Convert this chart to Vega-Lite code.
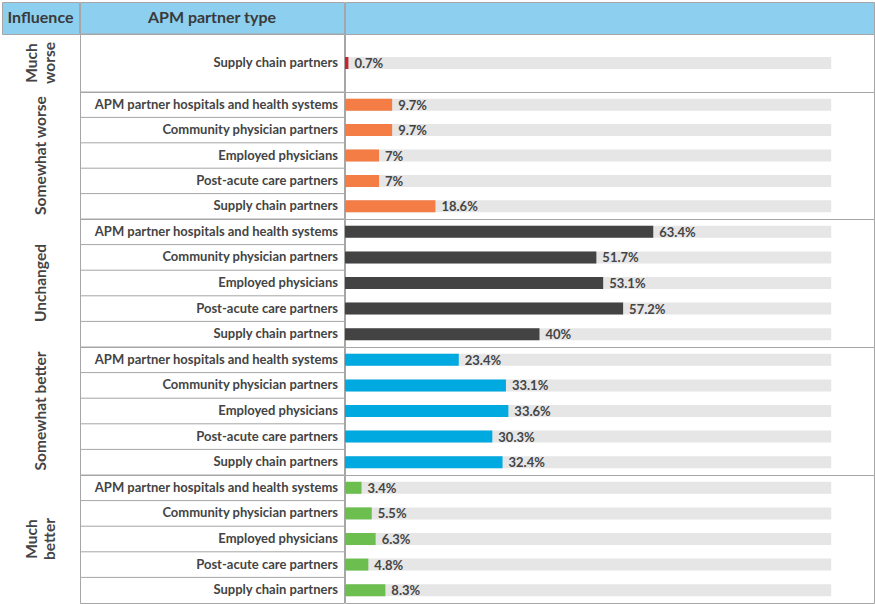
{
  "$schema": "https://vega.github.io/schema/vega-lite/v6.json",
  "padding": 1,
  "background": "white",
  "config": {
    "view": {"stroke": "#a6a6a6", "strokeWidth": 1},
    "concat": {"spacing": 0},
    "text": {"font": "Lato"}
  },
  "data": {
    "values": [
      {"influence": "Much worse", "partner": "Supply chain partners", "share": 0.007},
      {"influence": "Somewhat worse", "partner": "APM partner hospitals and health systems", "share": 0.097},
      {"influence": "Somewhat worse", "partner": "Community physician partners", "share": 0.097},
      {"influence": "Somewhat worse", "partner": "Employed physicians", "share": 0.07},
      {"influence": "Somewhat worse", "partner": "Post-acute care partners", "share": 0.07},
      {"influence": "Somewhat worse", "partner": "Supply chain partners", "share": 0.186},
      {"influence": "Unchanged", "partner": "APM partner hospitals and health systems", "share": 0.634},
      {"influence": "Unchanged", "partner": "Community physician partners", "share": 0.517},
      {"influence": "Unchanged", "partner": "Employed physicians", "share": 0.531},
      {"influence": "Unchanged", "partner": "Post-acute care partners", "share": 0.572},
      {"influence": "Unchanged", "partner": "Supply chain partners", "share": 0.40},
      {"influence": "Somewhat better", "partner": "APM partner hospitals and health systems", "share": 0.234},
      {"influence": "Somewhat better", "partner": "Community physician partners", "share": 0.331},
      {"influence": "Somewhat better", "partner": "Employed physicians", "share": 0.336},
      {"influence": "Somewhat better", "partner": "Post-acute care partners", "share": 0.303},
      {"influence": "Somewhat better", "partner": "Supply chain partners", "share": 0.324},
      {"influence": "Much better", "partner": "APM partner hospitals and health systems", "share": 0.034},
      {"influence": "Much better", "partner": "Community physician partners", "share": 0.055},
      {"influence": "Much better", "partner": "Employed physicians", "share": 0.063},
      {"influence": "Much better", "partner": "Post-acute care partners", "share": 0.048},
      {"influence": "Much better", "partner": "Supply chain partners", "share": 0.083}
    ]
  },
  "spacing": -2,
  "resolve": {"scale": {"x": "independent", "y": "independent"}},
  "hconcat": [
    {
      "spacing": 0,
      "bounds": "flush",
      "vconcat": [
        {"width": 77, "height": 32, "view": {"fill": "#8ccfee", "stroke": "#a6a6a6"}, "data": {"values": [{"h": "Influence"}]},
         "mark": {"type": "text", "font": "Lato", "fontWeight": "bold", "fontSize": 16, "color": "#3a3a3a"}, "encoding": {"text": {"field": "h"}}},
        {"width": 77, "height": 58, "data": {"values": [{"label": "Much\nworse"}]},
         "mark": {"type": "text", "angle": 270, "dy": -9, "font": "Lato", "fontWeight": "bold", "fontSize": 15.5, "color": "#444", "lineBreak": "\n", "lineHeight": 18},
         "encoding": {"text": {"field": "label"}}},
        {"width": 77, "height": 127, "data": {"values": [{"label": "Somewhat worse"}]},
         "mark": {"type": "text", "angle": 270, "font": "Lato", "fontWeight": "bold", "fontSize": 15.5, "color": "#444"},
         "encoding": {"text": {"field": "label"}}},
        {"width": 77, "height": 128, "data": {"values": [{"label": "Unchanged"}]},
         "mark": {"type": "text", "angle": 270, "font": "Lato", "fontWeight": "bold", "fontSize": 15.5, "color": "#444"},
         "encoding": {"text": {"field": "label"}}},
        {"width": 77, "height": 128, "data": {"values": [{"label": "Somewhat better"}]},
         "mark": {"type": "text", "angle": 270, "font": "Lato", "fontWeight": "bold", "fontSize": 15.5, "color": "#444"},
         "encoding": {"text": {"field": "label"}}},
        {"width": 77, "height": 128, "data": {"values": [{"label": "Much\nbetter"}]},
         "mark": {"type": "text", "angle": 270, "dy": -9, "font": "Lato", "fontWeight": "bold", "fontSize": 15.5, "color": "#444", "lineBreak": "\n", "lineHeight": 18},
         "encoding": {"text": {"field": "label"}}}
      ]
    },
    {
      "spacing": 0,
      "bounds": "flush",
      "resolve": {"scale": {"y": "independent"}},
      "vconcat": [
        {"width": 264, "height": 32, "view": {"fill": "#8ccfee", "stroke": "#a6a6a6"}, "data": {"values": [{"h": "APM partner type"}]},
         "mark": {"type": "text", "font": "Lato", "fontWeight": "bold", "fontSize": 16, "color": "#3a3a3a"}, "encoding": {"text": {"field": "h"}}},
        {"width": 264, "height": 58, "transform": [{"filter": {"field": "influence", "equal": "Much worse"}}],
         "encoding": {"y": {"field": "partner", "type": "nominal", "sort": null, "scale": {"paddingInner": 0, "paddingOuter": 0}, "axis": null}},
         "layer": [
           {"mark": {"type": "rule", "color": "#a6a6a6", "strokeWidth": 1}, "encoding": {"y": {"field": "partner", "type": "nominal", "sort": null, "bandPosition": 0, "scale": {"paddingInner": 0, "paddingOuter": 0}, "axis": null}}},
           {"mark": {"type": "text", "x": "width", "dx": -6, "align": "right", "baseline": "middle", "font": "Lato", "fontWeight": "bold", "fontSize": 13, "color": "#444"}, "encoding": {"text": {"field": "partner"}}}
         ]},
        {"width": 264, "height": 127, "transform": [{"filter": {"field": "influence", "equal": "Somewhat worse"}}],
         "encoding": {"y": {"field": "partner", "type": "nominal", "sort": null, "scale": {"paddingInner": 0, "paddingOuter": 0}, "axis": null}},
         "layer": [
           {"mark": {"type": "rule", "color": "#a6a6a6", "strokeWidth": 1}, "encoding": {"y": {"field": "partner", "type": "nominal", "sort": null, "bandPosition": 0, "scale": {"paddingInner": 0, "paddingOuter": 0}, "axis": null}}},
           {"mark": {"type": "text", "x": "width", "dx": -6, "align": "right", "baseline": "middle", "font": "Lato", "fontWeight": "bold", "fontSize": 13, "color": "#444"}, "encoding": {"text": {"field": "partner"}}}
         ]},
        {"width": 264, "height": 128, "transform": [{"filter": {"field": "influence", "equal": "Unchanged"}}],
         "encoding": {"y": {"field": "partner", "type": "nominal", "sort": null, "scale": {"paddingInner": 0, "paddingOuter": 0}, "axis": null}},
         "layer": [
           {"mark": {"type": "rule", "color": "#a6a6a6", "strokeWidth": 1}, "encoding": {"y": {"field": "partner", "type": "nominal", "sort": null, "bandPosition": 0, "scale": {"paddingInner": 0, "paddingOuter": 0}, "axis": null}}},
           {"mark": {"type": "text", "x": "width", "dx": -6, "align": "right", "baseline": "middle", "font": "Lato", "fontWeight": "bold", "fontSize": 13, "color": "#444"}, "encoding": {"text": {"field": "partner"}}}
         ]},
        {"width": 264, "height": 128, "transform": [{"filter": {"field": "influence", "equal": "Somewhat better"}}],
         "encoding": {"y": {"field": "partner", "type": "nominal", "sort": null, "scale": {"paddingInner": 0, "paddingOuter": 0}, "axis": null}},
         "layer": [
           {"mark": {"type": "rule", "color": "#a6a6a6", "strokeWidth": 1}, "encoding": {"y": {"field": "partner", "type": "nominal", "sort": null, "bandPosition": 0, "scale": {"paddingInner": 0, "paddingOuter": 0}, "axis": null}}},
           {"mark": {"type": "text", "x": "width", "dx": -6, "align": "right", "baseline": "middle", "font": "Lato", "fontWeight": "bold", "fontSize": 13, "color": "#444"}, "encoding": {"text": {"field": "partner"}}}
         ]},
        {"width": 264, "height": 128, "transform": [{"filter": {"field": "influence", "equal": "Much better"}}],
         "encoding": {"y": {"field": "partner", "type": "nominal", "sort": null, "scale": {"paddingInner": 0, "paddingOuter": 0}, "axis": null}},
         "layer": [
           {"mark": {"type": "rule", "color": "#a6a6a6", "strokeWidth": 1}, "encoding": {"y": {"field": "partner", "type": "nominal", "sort": null, "bandPosition": 0, "scale": {"paddingInner": 0, "paddingOuter": 0}, "axis": null}}},
           {"mark": {"type": "text", "x": "width", "dx": -6, "align": "right", "baseline": "middle", "font": "Lato", "fontWeight": "bold", "fontSize": 13, "color": "#444"}, "encoding": {"text": {"field": "partner"}}}
         ]}
      ]
    },
    {
      "spacing": 0,
      "bounds": "flush",
      "resolve": {"scale": {"y": "independent", "x": "independent"}},
      "vconcat": [
        {"width": 529, "height": 32, "view": {"fill": "#8ccfee", "stroke": "#a6a6a6"}, "data": {"values": [{"h": ""}]},
         "mark": {"type": "text", "font": "Lato", "fontWeight": "bold", "fontSize": 16, "color": "#3a3a3a"}, "encoding": {"text": {"field": "h"}}},
        {"width": 529, "height": 58, "transform": [{"filter": {"field": "influence", "equal": "Much worse"}}],
         "encoding": {"y": {"field": "partner", "type": "nominal", "sort": null, "scale": {"paddingInner": 0, "paddingOuter": 0}, "axis": null}},
         "layer": [
           {"mark": {"type": "bar", "height": 12, "color": "#e6e6e6"}, "encoding": {"x": {"datum": 1, "type": "quantitative", "scale": {"domain": [0, 1.088], "nice": false, "zero": true}, "axis": null}}},
           {"mark": {"type": "bar", "height": 12}, "encoding": {"x": {"field": "share", "type": "quantitative", "scale": {"domain": [0, 1.088], "nice": false, "zero": true}, "axis": null},
             "color": {"field": "influence", "type": "nominal", "legend": null, "scale": {"domain": ["Much worse", "Somewhat worse", "Unchanged", "Somewhat better", "Much better"], "range": ["#c4262e", "#f47d45", "#434343", "#00a9df", "#6cbf4f"]}}}},
           {"mark": {"type": "text", "align": "left", "baseline": "middle", "dx": 6, "dy": 1, "font": "Lato", "fontWeight": "bold", "fontSize": 13, "color": "#444"},
            "encoding": {"x": {"field": "share", "type": "quantitative", "scale": {"domain": [0, 1.088], "nice": false, "zero": true}, "axis": null}, "text": {"field": "share", "format": ".1~%"}}}
         ]},
        {"width": 529, "height": 127, "transform": [{"filter": {"field": "influence", "equal": "Somewhat worse"}}],
         "encoding": {"y": {"field": "partner", "type": "nominal", "sort": null, "scale": {"paddingInner": 0, "paddingOuter": 0}, "axis": null}},
         "layer": [
           {"mark": {"type": "bar", "height": 12, "color": "#e6e6e6"}, "encoding": {"x": {"datum": 1, "type": "quantitative", "scale": {"domain": [0, 1.088], "nice": false, "zero": true}, "axis": null}}},
           {"mark": {"type": "bar", "height": 12}, "encoding": {"x": {"field": "share", "type": "quantitative", "scale": {"domain": [0, 1.088], "nice": false, "zero": true}, "axis": null},
             "color": {"field": "influence", "type": "nominal", "legend": null, "scale": {"domain": ["Much worse", "Somewhat worse", "Unchanged", "Somewhat better", "Much better"], "range": ["#c4262e", "#f47d45", "#434343", "#00a9df", "#6cbf4f"]}}}},
           {"mark": {"type": "text", "align": "left", "baseline": "middle", "dx": 6, "dy": 1, "font": "Lato", "fontWeight": "bold", "fontSize": 13, "color": "#444"},
            "encoding": {"x": {"field": "share", "type": "quantitative", "scale": {"domain": [0, 1.088], "nice": false, "zero": true}, "axis": null}, "text": {"field": "share", "format": ".1~%"}}}
         ]},
        {"width": 529, "height": 128, "transform": [{"filter": {"field": "influence", "equal": "Unchanged"}}],
         "encoding": {"y": {"field": "partner", "type": "nominal", "sort": null, "scale": {"paddingInner": 0, "paddingOuter": 0}, "axis": null}},
         "layer": [
           {"mark": {"type": "bar", "height": 12, "color": "#e6e6e6"}, "encoding": {"x": {"datum": 1, "type": "quantitative", "scale": {"domain": [0, 1.088], "nice": false, "zero": true}, "axis": null}}},
           {"mark": {"type": "bar", "height": 12}, "encoding": {"x": {"field": "share", "type": "quantitative", "scale": {"domain": [0, 1.088], "nice": false, "zero": true}, "axis": null},
             "color": {"field": "influence", "type": "nominal", "legend": null, "scale": {"domain": ["Much worse", "Somewhat worse", "Unchanged", "Somewhat better", "Much better"], "range": ["#c4262e", "#f47d45", "#434343", "#00a9df", "#6cbf4f"]}}}},
           {"mark": {"type": "text", "align": "left", "baseline": "middle", "dx": 6, "dy": 1, "font": "Lato", "fontWeight": "bold", "fontSize": 13, "color": "#444"},
            "encoding": {"x": {"field": "share", "type": "quantitative", "scale": {"domain": [0, 1.088], "nice": false, "zero": true}, "axis": null}, "text": {"field": "share", "format": ".1~%"}}}
         ]},
        {"width": 529, "height": 128, "transform": [{"filter": {"field": "influence", "equal": "Somewhat better"}}],
         "encoding": {"y": {"field": "partner", "type": "nominal", "sort": null, "scale": {"paddingInner": 0, "paddingOuter": 0}, "axis": null}},
         "layer": [
           {"mark": {"type": "bar", "height": 12, "color": "#e6e6e6"}, "encoding": {"x": {"datum": 1, "type": "quantitative", "scale": {"domain": [0, 1.088], "nice": false, "zero": true}, "axis": null}}},
           {"mark": {"type": "bar", "height": 12}, "encoding": {"x": {"field": "share", "type": "quantitative", "scale": {"domain": [0, 1.088], "nice": false, "zero": true}, "axis": null},
             "color": {"field": "influence", "type": "nominal", "legend": null, "scale": {"domain": ["Much worse", "Somewhat worse", "Unchanged", "Somewhat better", "Much better"], "range": ["#c4262e", "#f47d45", "#434343", "#00a9df", "#6cbf4f"]}}}},
           {"mark": {"type": "text", "align": "left", "baseline": "middle", "dx": 6, "dy": 1, "font": "Lato", "fontWeight": "bold", "fontSize": 13, "color": "#444"},
            "encoding": {"x": {"field": "share", "type": "quantitative", "scale": {"domain": [0, 1.088], "nice": false, "zero": true}, "axis": null}, "text": {"field": "share", "format": ".1~%"}}}
         ]},
        {"width": 529, "height": 128, "transform": [{"filter": {"field": "influence", "equal": "Much better"}}],
         "encoding": {"y": {"field": "partner", "type": "nominal", "sort": null, "scale": {"paddingInner": 0, "paddingOuter": 0}, "axis": null}},
         "layer": [
           {"mark": {"type": "bar", "height": 12, "color": "#e6e6e6"}, "encoding": {"x": {"datum": 1, "type": "quantitative", "scale": {"domain": [0, 1.088], "nice": false, "zero": true}, "axis": null}}},
           {"mark": {"type": "bar", "height": 12}, "encoding": {"x": {"field": "share", "type": "quantitative", "scale": {"domain": [0, 1.088], "nice": false, "zero": true}, "axis": null},
             "color": {"field": "influence", "type": "nominal", "legend": null, "scale": {"domain": ["Much worse", "Somewhat worse", "Unchanged", "Somewhat better", "Much better"], "range": ["#c4262e", "#f47d45", "#434343", "#00a9df", "#6cbf4f"]}}}},
           {"mark": {"type": "text", "align": "left", "baseline": "middle", "dx": 6, "dy": 1, "font": "Lato", "fontWeight": "bold", "fontSize": 13, "color": "#444"},
            "encoding": {"x": {"field": "share", "type": "quantitative", "scale": {"domain": [0, 1.088], "nice": false, "zero": true}, "axis": null}, "text": {"field": "share", "format": ".1~%"}}}
         ]}
      ]
    }
  ]
}
